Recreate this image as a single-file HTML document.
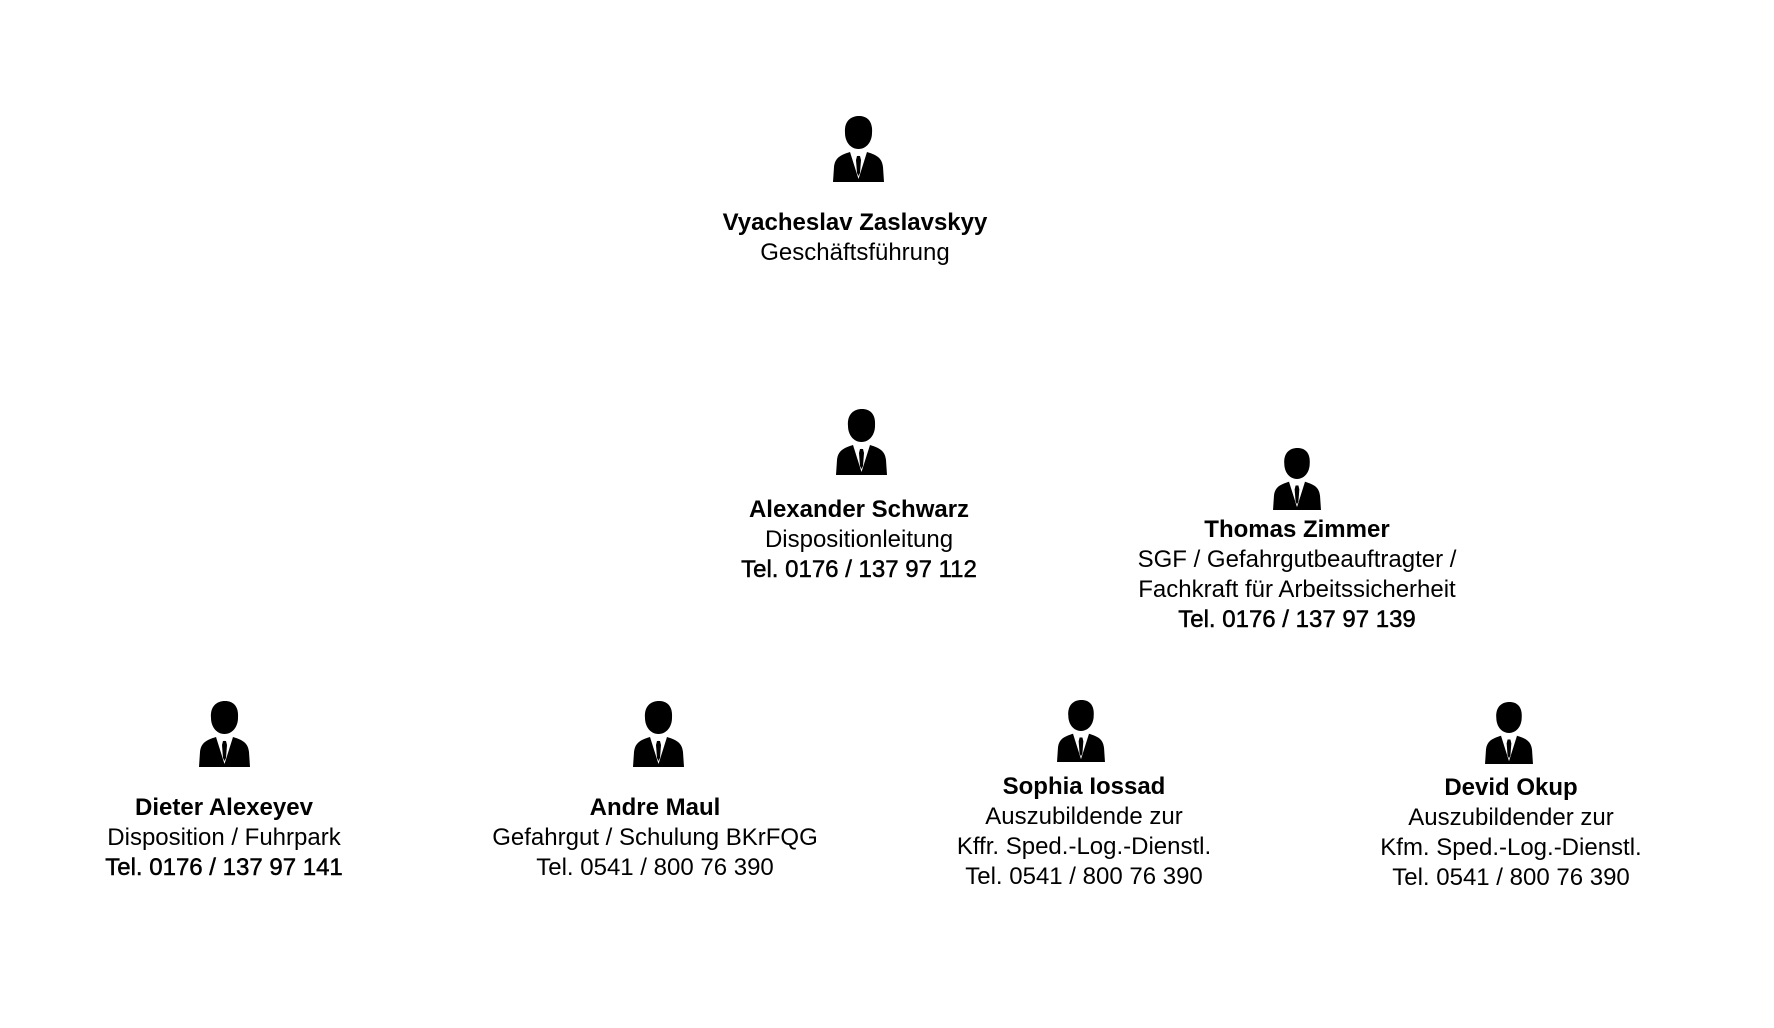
<!DOCTYPE html>
<html><head><meta charset="utf-8"><style>
body{margin:0;width:1774px;height:1028px;background:#fff;position:relative;overflow:hidden;font-family:"Segoe UI","Liberation Sans",sans-serif;color:#000}
.t{position:absolute;width:500px;text-align:center;font-size:24px;line-height:30px;white-space:nowrap}
.b{font-weight:bold}
.m{-webkit-text-stroke:0.5px #000}
svg{position:absolute}
</style></head><body>
<svg width="0" height="0" style="position:absolute"><defs>
<symbol id="p" viewBox="0 0 53 67">
<path d="M13 18 C12 6 19 1 27 1 C35 1 41 6 40 18 C40 26 35 34 26.5 34 C18 34 13 26 13 18Z" fill="#000"/>
<path d="M1 67 L2 52 C3 43 8 40 18 37 L26.5 41 L35 37 C45 40 50 43 51 52 L52 67Z" fill="#000"/>
<path d="M18 37 L26.5 64 L35 37 L30 38 L26.5 41 L23 38Z" fill="#fff"/>
<path d="M25 41 L28 41 L29 45 L28 58 L26.5 61 L25 58 L24 45Z" fill="#000"/>
</symbol></defs></svg>

<svg style="left:832px;top:115px" width="53" height="67"><use href="#p"/></svg>
<div class="t" style="left:605px;top:208px"><span class="b">Vyacheslav Zaslavskyy</span><br>Geschäftsführung</div>

<svg style="left:835px;top:408px" width="53" height="67"><use href="#p"/></svg>
<div class="t" style="left:609px;top:495px"><span class="b">Alexander Schwarz</span><br>Dispositionleitung<br><span class="m">Tel. 0176 / 137 97 112</span></div>

<svg style="left:1272px;top:447px" width="50" height="63"><use href="#p"/></svg>
<div class="t" style="left:1047px;top:515px"><span class="b">Thomas Zimmer</span><br>SGF / Gefahrgutbeauftragter /<br>Fachkraft für Arbeitssicherheit<br><span class="m">Tel. 0176 / 137 97 139</span></div>

<svg style="left:198px;top:700px" width="53" height="67"><use href="#p"/></svg>
<div class="t" style="left:-26px;top:793px"><span class="b">Dieter Alexeyev</span><br>Disposition / Fuhrpark<br><span class="m">Tel. 0176 / 137 97 141</span></div>

<svg style="left:632px;top:700px" width="53" height="67"><use href="#p"/></svg>
<div class="t" style="left:405px;top:793px"><span class="b">Andre Maul</span><br>Gefahrgut / Schulung BKrFQG<br>Tel. 0541 / 800 76 390</div>

<svg style="left:1056px;top:699px" width="50" height="63"><use href="#p"/></svg>
<div class="t" style="left:834px;top:772px"><span class="b">Sophia Iossad</span><br>Auszubildende zur<br>Kffr. Sped.-Log.-Dienstl.<br>Tel. 0541 / 800 76 390</div>

<svg style="left:1484px;top:701px" width="50" height="63"><use href="#p"/></svg>
<div class="t" style="left:1261px;top:773px"><span class="b">Devid Okup</span><br>Auszubildender zur<br>Kfm. Sped.-Log.-Dienstl.<br>Tel. 0541 / 800 76 390</div>
</body></html>
